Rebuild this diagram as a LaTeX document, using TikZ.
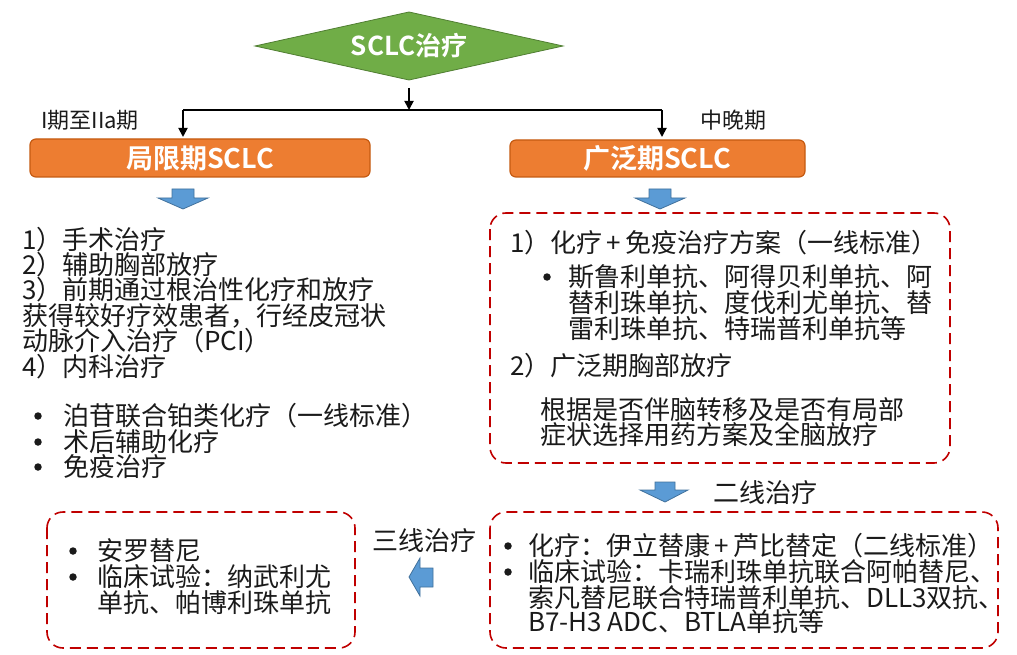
\documentclass[tikz,border=0pt]{standalone}
\usepackage{fontspec}
\setmainfont{Noto Sans CJK SC}[BoldFont={Noto Sans CJK SC Bold}]
\usetikzlibrary{arrows.meta}
\definecolor{gfill}{HTML}{70AD47}
\definecolor{gline}{HTML}{507E32}
\definecolor{ofill}{HTML}{ED7D31}
\definecolor{oline}{HTML}{C55A11}
\definecolor{bfill}{HTML}{5B9BD5}
\definecolor{bline}{HTML}{41719C}
\definecolor{rdash}{HTML}{C00000}
\definecolor{tcol}{HTML}{1A1A1A}
\begin{document}
\begin{tikzpicture}[x=1pt,y=-1pt,
  txt/.style={anchor=west,inner sep=0pt,text=tcol,font=\fontsize{26}{28}\selectfont,text height=22pt,text depth=4pt},
  dot/.style={circle,fill=tcol,inner sep=0pt,minimum size=7.5pt},
  obox/.style={draw=oline,line width=1.2pt,fill=ofill,rounded corners=6pt},
  otitle/.style={text=white,font=\fontsize{27}{29}\selectfont\bfseries,inner sep=0pt},
  dbox/.style={draw=rdash,line width=1.6pt,dash pattern=on 11pt off 6pt,rounded corners=16pt},
  barrow/.style={draw=bline,line width=0.8pt,fill=bfill},
  conn/.style={line width=1.8pt,draw=black},
  arr/.style={conn,-{Triangle[length=9pt,width=9pt]}}
]
\useasboundingbox (0,0) rectangle (1017,655);
% diamond
\draw[fill=gfill,draw=gline,line width=0.8pt] (255,46) -- (409,12) -- (563,46) -- (409,80) -- cycle;
\node[otitle,font=\fontsize{26}{28}\selectfont\bfseries] (top) at (409,46) {SCLC治疗};
\coordinate (topb) at (409,88);
\coordinate (j) at (409,110);
\coordinate (jl) at (183,110);
\coordinate (jr) at (662,110);
% orange boxes
\draw[obox] (30,139) rectangle (370,177);
\node[otitle] (lim) at (200,158) {局限期SCLC};
\draw[obox] (510,140) rectangle (805,177);
\node[otitle] (ext) at (657,158) {广泛期SCLC};
\coordinate (limt) at (183,137);
\coordinate (extt) at (662,137);
% connectors
\draw[arr] (topb) -- (j);
\draw[conn] (jl) -- (jr);
\draw[arr] (jl) -- (limt);
\draw[arr] (jr) -- (extt);
\node[txt,font=\fontsize{22}{24}\selectfont] (lbl1) at (41,120) {I期至IIa期};
\node[txt,font=\fontsize{22}{24}\selectfont] (lbl2) at (700,120) {中晚期};
% blue arrows
\draw[barrow] (172,189) -- (194,189) -- (194,198) -- (208,198) -- (183,209) -- (158,198) -- (172,198) -- cycle;
\draw[barrow] (649,189) -- (671,189) -- (671,198) -- (685,198) -- (660,209) -- (635,198) -- (649,198) -- cycle;
\draw[barrow] (655,482) -- (675,482) -- (675,490) -- (688,490) -- (665,502) -- (640,490) -- (655,490) -- cycle;
\draw[barrow] (433,568) -- (420,568) -- (420,558) -- (409,577) -- (420,596) -- (420,587) -- (433,587) -- cycle;
% left list
\node[txt] (l1) at (22,240) {1）手术治疗};
\node[txt] (l2) at (22,265) {2）辅助胸部放疗};
\node[txt] (l3) at (22,290) {3）前期通过根治性化疗和放疗};
\node[txt] (l4) at (22,316) {获得较好疗效患者，行经皮冠状};
\node[txt] (l5) at (22,341) {动脉介入治疗（PCI）};
\node[txt] (l6) at (22,367) {4）内科治疗};
\node[dot] (lb1) at (38,416) {};
\node[txt] (l7) at (63,416) {泊苷联合铂类化疗（一线标准）};
\node[dot] (lb2) at (38,442) {};
\node[txt] (l8) at (63,442) {术后辅助化疗};
\node[dot] (lb3) at (38,467) {};
\node[txt] (l9) at (63,467) {免疫治疗};
% right box 1
\draw[dbox] (490,213) rectangle (950,463);
\node[txt] (r1) at (510,243) {1）化疗\,+\,免疫治疗方案（一线标准）};
\node[dot] (rb1) at (547,277) {};
\node[txt] (r2) at (568,277) {斯鲁利单抗、阿得贝利单抗、阿};
\node[txt] (r3) at (568,303) {替利珠单抗、度伐利尤单抗、替};
\node[txt] (r4) at (568,329) {雷利珠单抗、特瑞普利单抗等};
\node[txt] (r5) at (510,366) {2）广泛期胸部放疗};
\node[txt] (r6) at (540,410) {根据是否伴脑转移及是否有局部};
\node[txt] (r7) at (540,435) {症状选择用药方案及全脑放疗};
% second line
\node[txt] (sec) at (713,493) {二线治疗};
\draw[dbox] (490,512) rectangle (998,648);
\node[dot] (sb1) at (508,546) {};
\node[txt] (s1) at (528,546) {化疗：伊立替康\,+\,芦比替定（二线标准）};
\node[dot] (sb2) at (508,572) {};
\node[txt] (s2) at (528,572) {临床试验：卡瑞利珠单抗联合阿帕替尼、};
\node[txt] (s3) at (528,598) {索凡替尼联合特瑞普利单抗、DLL3双抗、};
\node[txt] (s4) at (528,622) {B7-H3 ADC、BTLA单抗等};
% third line
\node[txt] (thi) at (372,541) {三线治疗};
\draw[dbox] (47,512) rectangle (355,648);
\node[dot] (tb1) at (73,551) {};
\node[txt] (t1) at (97,551) {安罗替尼};
\node[dot] (tb2) at (73,577) {};
\node[txt] (t2) at (97,577) {临床试验：纳武利尤};
\node[txt] (t3) at (97,603) {单抗、帕博利珠单抗};
\end{tikzpicture}
\end{document}
